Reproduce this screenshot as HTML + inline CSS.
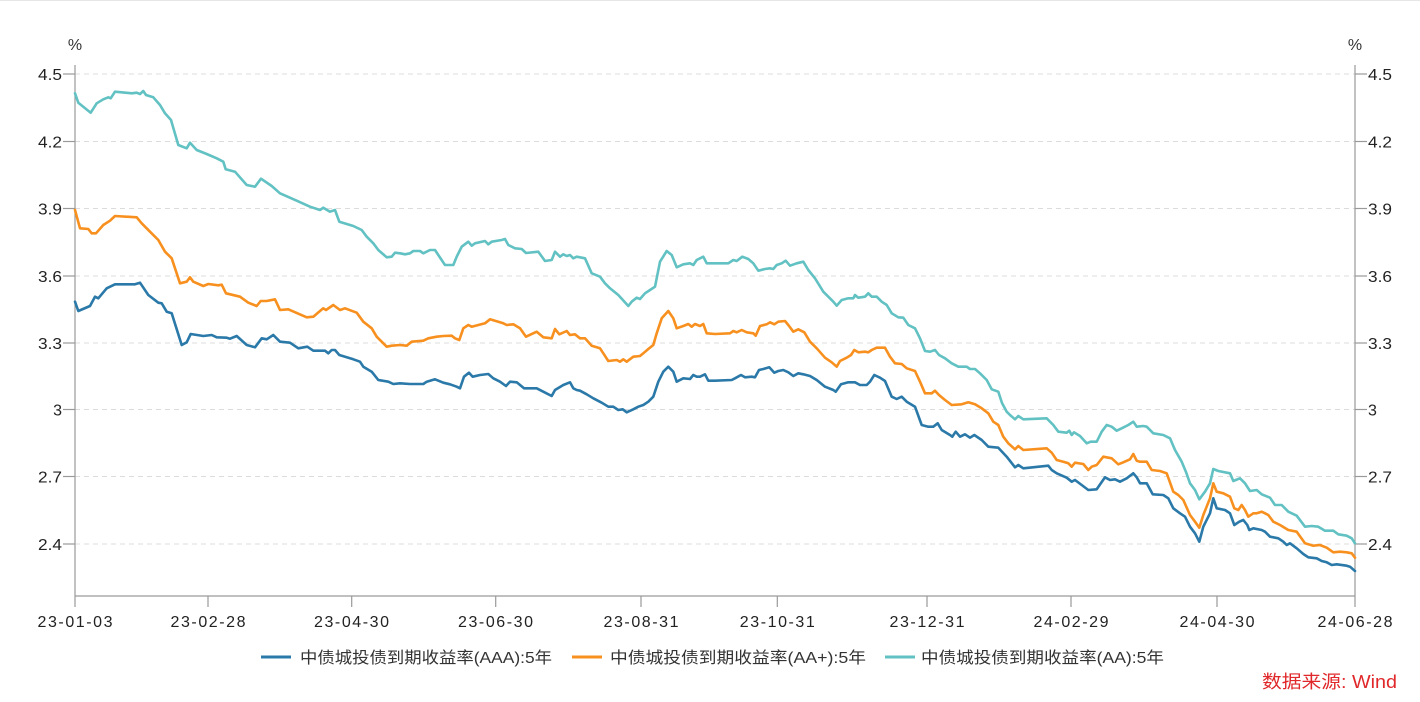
<!DOCTYPE html>
<html>
<head>
<meta charset="utf-8">
<style>
  html,body{margin:0;padding:0;background:#fff;}
  body{width:1420px;height:702px;overflow:hidden;}
  svg{display:block;}
  text{font-family:"Liberation Sans","Noto Sans CJK SC",sans-serif;}
</style>
</head>
<body>
<svg width="1420" height="702" viewBox="0 0 1420 702" xmlns="http://www.w3.org/2000/svg">
  <rect x="0" y="0" width="1420" height="702" fill="#fff"/>
  <line x1="0" y1="0.5" x2="1420" y2="0.5" stroke="#e6e6e6" stroke-width="1"/>

  <!-- grid -->
  <g stroke="#dcdcdc" stroke-width="1" stroke-dasharray="5,4">
    <line x1="75" y1="74" x2="1355" y2="74"/>
    <line x1="75" y1="141.5" x2="1355" y2="141.5"/>
    <line x1="75" y1="208.5" x2="1355" y2="208.5"/>
    <line x1="75" y1="276" x2="1355" y2="276"/>
    <line x1="75" y1="343" x2="1355" y2="343"/>
    <line x1="75" y1="409.5" x2="1355" y2="409.5"/>
    <line x1="75" y1="476.5" x2="1355" y2="476.5"/>
    <line x1="75" y1="544" x2="1355" y2="544"/>
  </g>

  <!-- axes -->
  <g stroke="#9a9a9a" stroke-width="1.2" fill="none">
    <line x1="75" y1="65" x2="75" y2="596"/>
    <line x1="1355" y1="65" x2="1355" y2="596"/>
    <line x1="75" y1="596" x2="1355" y2="596"/>
    <line x1="63" y1="74" x2="75" y2="74"/>
    <line x1="63" y1="141.5" x2="75" y2="141.5"/>
    <line x1="63" y1="208.5" x2="75" y2="208.5"/>
    <line x1="63" y1="276" x2="75" y2="276"/>
    <line x1="63" y1="343" x2="75" y2="343"/>
    <line x1="63" y1="409.5" x2="75" y2="409.5"/>
    <line x1="63" y1="476.5" x2="75" y2="476.5"/>
    <line x1="63" y1="544" x2="75" y2="544"/>
    <line x1="1355" y1="74" x2="1367" y2="74"/>
    <line x1="1355" y1="141.5" x2="1367" y2="141.5"/>
    <line x1="1355" y1="208.5" x2="1367" y2="208.5"/>
    <line x1="1355" y1="276" x2="1367" y2="276"/>
    <line x1="1355" y1="343" x2="1367" y2="343"/>
    <line x1="1355" y1="409.5" x2="1367" y2="409.5"/>
    <line x1="1355" y1="476.5" x2="1367" y2="476.5"/>
    <line x1="1355" y1="544" x2="1367" y2="544"/>
    <line x1="75" y1="596" x2="75" y2="607"/>
    <line x1="208" y1="596" x2="208" y2="607"/>
    <line x1="351.7" y1="596" x2="351.7" y2="607"/>
    <line x1="495.7" y1="596" x2="495.7" y2="607"/>
    <line x1="641" y1="596" x2="641" y2="607"/>
    <line x1="777.3" y1="596" x2="777.3" y2="607"/>
    <line x1="927" y1="596" x2="927" y2="607"/>
    <line x1="1071" y1="596" x2="1071" y2="607"/>
    <line x1="1217" y1="596" x2="1217" y2="607"/>
    <line x1="1355" y1="596" x2="1355" y2="607"/>
  </g>

  <!-- y labels -->
  <g font-size="16" fill="#222" text-anchor="end">
    <text x="75" y="50" text-anchor="middle" fill="#333">%</text>
    <text x="62" y="80" textLength="24" lengthAdjust="spacingAndGlyphs">4.5</text>
    <text x="62" y="147.5" textLength="24" lengthAdjust="spacingAndGlyphs">4.2</text>
    <text x="62" y="214.5" textLength="24" lengthAdjust="spacingAndGlyphs">3.9</text>
    <text x="62" y="282" textLength="24" lengthAdjust="spacingAndGlyphs">3.6</text>
    <text x="62" y="349" textLength="24" lengthAdjust="spacingAndGlyphs">3.3</text>
    <text x="62" y="415.5">3</text>
    <text x="62" y="482.5" textLength="24" lengthAdjust="spacingAndGlyphs">2.7</text>
    <text x="62" y="550" textLength="24" lengthAdjust="spacingAndGlyphs">2.4</text>
  </g>
  <g font-size="16" fill="#222" text-anchor="start">
    <text x="1355" y="50" text-anchor="middle" fill="#333">%</text>
    <text x="1368" y="80" textLength="24" lengthAdjust="spacingAndGlyphs">4.5</text>
    <text x="1368" y="147.5" textLength="24" lengthAdjust="spacingAndGlyphs">4.2</text>
    <text x="1368" y="214.5" textLength="24" lengthAdjust="spacingAndGlyphs">3.9</text>
    <text x="1368" y="282" textLength="24" lengthAdjust="spacingAndGlyphs">3.6</text>
    <text x="1368" y="349" textLength="24" lengthAdjust="spacingAndGlyphs">3.3</text>
    <text x="1368" y="415.5">3</text>
    <text x="1368" y="482.5" textLength="24" lengthAdjust="spacingAndGlyphs">2.7</text>
    <text x="1368" y="550" textLength="24" lengthAdjust="spacingAndGlyphs">2.4</text>
  </g>

  <!-- x labels -->
  <g font-size="16" fill="#222">
    <text x="37.5" y="627" textLength="75" lengthAdjust="spacing">23-01-03</text>
    <text x="170.5" y="627" textLength="75" lengthAdjust="spacing">23-02-28</text>
    <text x="314" y="627" textLength="75" lengthAdjust="spacing">23-04-30</text>
    <text x="458" y="627" textLength="75" lengthAdjust="spacing">23-06-30</text>
    <text x="603.5" y="627" textLength="75" lengthAdjust="spacing">23-08-31</text>
    <text x="739.8" y="627" textLength="75" lengthAdjust="spacing">23-10-31</text>
    <text x="889.5" y="627" textLength="75" lengthAdjust="spacing">23-12-31</text>
    <text x="1033.5" y="627" textLength="75" lengthAdjust="spacing">24-02-29</text>
    <text x="1179.5" y="627" textLength="75" lengthAdjust="spacing">24-04-30</text>
    <text x="1317.5" y="627" textLength="75" lengthAdjust="spacing">24-06-28</text>
  </g>

  <!-- series -->
  <g fill="none" stroke-width="2.6" stroke-linejoin="round" stroke-linecap="round">
    <polyline stroke="#62c1c2" points="75,93.3 78.3,102.7 90.7,112.7 96.7,103.3 103.3,99.3 108.3,97.3 110.7,98.3 115,91.7 131.7,93.3 136.7,92.7 140,94 143.3,91 146,95 153.3,97.3 160,105 165,113.3 171,120 178.3,145 186.7,148.3 190,142.7 196.7,150 206.7,154 216.7,158.3 223.3,161.7 225.7,169.3 235,171.7 246.7,185 255,186.7 261,178.7 271.7,186 280,193.3 296.7,200.7 310,206.7 320,210 323.3,207.7 330,211.7 335,210 339.3,221.7 353.3,226 361.7,230 366.7,236.7 373.3,243.3 378.3,250 386.7,257.3 391.7,256.7 395,252.7 400,253.3 405,254.3 410,253.3 413.3,251 420,251 423.3,253.3 430,250 435,250 438.3,255 445,265 453.3,265 456.7,256.7 461.7,246.7 468.3,241.7 471.7,245.7 475,243.3 485,241 488.3,244.3 491.7,241.7 501.7,240 505,239 508.3,245 515,248.3 521.7,249 526,253 538.3,251.7 545,261 551.7,260 555,251.7 560,256.7 563.3,254.3 566.7,256 570,255 573.3,258.3 576.7,256.7 585,258.3 591.7,273.3 600,276.7 605,283.3 610,288.3 618.3,295 628.3,306 631.7,301.7 636.7,297.7 640,299 645,293.3 650,290 655,286.7 660,261.7 666.7,251 671.7,255 676.7,267.3 683.3,264.3 690,263.3 693.3,265 696.7,260 703.3,256.7 706.7,263.3 715,263.3 728.3,263.3 733.3,260 736.7,261 742.3,256.7 748.3,259 753.3,263.3 758.3,270.7 765,269 770,268.3 773.3,269 776.7,265 781.7,263.3 785.7,260.7 790,265.7 796.7,263.3 803.3,261.7 808.3,270 815,278.3 823.3,291.7 828.3,296.7 833.3,301.7 836.7,305.7 841.7,300 848.3,298.3 853.3,298.3 855,295 858.3,297.7 865,296.7 868.3,293.3 871.7,296.7 876.7,296.7 881.7,301.7 886.7,305 891.7,313.3 898.3,317.3 903.3,317.7 908.3,325 915,328.3 920,338.3 925,351 930,351.7 935,350 939,355 945,358.3 951.7,363.3 958.3,366.7 966.7,366.7 970,369 975,369 980,373.3 986.7,380 991.7,389.3 998.3,391.7 1002,403 1006.7,411.7 1010,415 1015,419.3 1018.3,416 1023.3,419.3 1046.7,418.3 1053.3,425 1058.3,431.7 1066.7,432.7 1069.3,430.7 1071.7,435 1074,432.3 1080,436 1086.7,443.3 1090.7,441.7 1096.7,441.7 1101.7,431.7 1106.7,425 1111.7,426.7 1116.7,430.7 1121.7,428.3 1128.3,425 1133.3,421.7 1136.7,426.7 1143.3,426 1146.7,426.7 1153.3,433.3 1163.3,435 1170,438.3 1175,450 1181.7,461.7 1186,472 1190,483.3 1195,490 1199.3,499.3 1205,491.7 1210,483.3 1213.3,469 1218.3,471 1230,473.3 1233.3,481 1240,478.3 1245,483.3 1250,491 1256.7,490 1261.7,494.3 1270,497.7 1275,505 1281.7,505 1288.3,511.7 1296.7,515.7 1305,526.7 1311.7,526 1318.3,526.7 1325,530.7 1333.3,530.7 1338.3,534.3 1346.7,535.7 1351.7,538.3 1355,543.3"/>
    <polyline stroke="#f7901f" points="75,210 80,228.3 88.3,229 91.7,233.3 96,233.3 103.3,225 110,220.7 115,216 136.7,217.3 141.7,223.3 150,231.7 158.3,240 165,251.7 171.7,258.3 180,283.3 186.7,281.7 190,277.3 193.3,281.7 203.3,286 208.3,284 218.3,285.3 221.7,284.7 226,293.3 240,296.7 248.3,302.7 256.7,306 260.7,301 266.7,301 275,299.3 280,310 288.3,309.3 306.7,317.3 313.3,316.7 320,311 323.3,308.3 326,310 333.3,305 340,310 345,308.3 356.7,312.7 363.3,321.7 371.7,328.3 376.7,336.7 386.7,346.7 391.7,345.7 400,345 406.7,345.7 411.7,341.7 423.3,340.7 428.3,338.3 436.7,336.7 443.3,336 451.7,335.7 455,338.3 459.3,340 463.3,328.3 468.3,325 471.7,326.7 485,323.3 490,319.3 498.3,321.7 503.3,323.3 506.7,325 513.3,324.3 520,328.3 526,336.7 536.7,331.7 543.3,337.3 551.7,338.3 555,329 559.3,334.3 566.7,331 570,335 575,334.3 580,338.3 585,338.3 591.7,345.7 600,348.3 603.3,353.3 608.3,361 616.7,360 620,361.7 623.3,359.3 626.7,361.7 633.3,356.7 640,356 643.3,353.3 648.3,349 653.3,345 656.7,333.3 661.7,318.3 668.3,311 673.3,318.3 676.7,328.3 683.3,326 688.3,324 691.7,326.7 695,324 700,326 703.3,324 706.7,333.3 715,334 730,333.3 733.3,331 736.7,332.3 741.7,330 746.7,332.3 753.3,333.3 755.7,335.7 760,326 766.7,324.3 770,322.3 774.3,324.3 778.3,321.7 785,321 788.3,325 793.3,331.7 798.3,329.3 804.3,332.3 810,341.7 816.7,348.3 825,357.7 831.7,362.3 836.7,366.7 840,361 846.7,357.7 851,355 854.3,350 858.3,352.3 865,351.7 868.3,352.3 871.7,350 876.7,347.7 885,347.7 890,356.7 895,363.3 901.7,364 906.7,368.3 915,371 920,381.7 925,393.3 931.7,393.3 935,390.7 939,395 945,400 951.7,405 961.7,404.3 968.3,402.3 975,404.3 981.7,408.3 988.3,413.3 993.3,421.7 998.3,425 1003.3,436.7 1008.3,443.3 1015,449.3 1018.3,446 1023.3,450 1046.7,448.3 1051.7,452.7 1056.7,460 1063.3,461.7 1068.3,463.3 1071.7,466.7 1075,462.7 1083.3,464 1088.3,470 1091.7,466.7 1096.7,465 1103.3,456.7 1111.7,458.3 1118.3,464.3 1123.3,462.3 1130,459.3 1133.3,454 1136.7,460.7 1140,461.7 1146.7,461.7 1151.7,470 1160,471 1166.7,473.3 1173.3,491.7 1178.3,495 1183.3,500 1190,515 1195,521.7 1199.3,527.7 1203.3,515 1210,498.3 1213.3,483.3 1216.7,491.7 1223.3,493.3 1230,496.7 1234.3,508.3 1238.3,510 1241.7,505 1245,510 1248.3,516.7 1253.3,513.3 1256.7,513.3 1261.7,511.7 1265,513.3 1268.3,515 1273.3,521.7 1280,525 1288.3,530 1296.7,531.7 1305,543.3 1313.3,545.7 1320,545 1326.7,547.7 1333.3,552.3 1340,551.7 1346.7,552.3 1351.7,553.3 1355,557.7"/>
    <polyline stroke="#2a79a8" points="75,301.7 78.3,311 90,306 95,296.7 98.3,298.3 106.7,288.3 115,284.3 135,284.3 140,282.7 148.3,295 158.3,302.7 161.7,303.3 166.7,311.7 171.7,313.3 181.7,345 186.7,342.3 190.7,334 203.3,336 211.7,335 216.7,337.3 226.7,337.7 230,338.7 236.7,336 246.7,345 255,347.3 261.7,338.3 266.7,339.3 273.3,335 280,341.7 290,342.7 298.3,348.3 307.3,346.7 313.3,350.7 325,350.7 328.3,353.3 331.7,350 335,350 339.3,355 353.3,359.3 360,361.7 363.3,366.7 371.7,371.7 378.3,380 388.3,381.7 393.3,384 400,383.3 410,384 423.3,384 426.7,381.7 435,379.3 443.3,382.7 450,384.3 456.7,386.7 460,388.3 464,376.7 469,372.7 472.7,376.7 480,375 488.3,374 493.3,378.3 500,381.7 506,386 510,381.7 516.7,382.3 524,388.3 536.7,388.3 543.3,391.7 551.7,396 555,390 563.3,385 570,382.3 573.3,388.3 576.7,390 580,390.7 586.7,394.3 593.3,398.3 601.7,402.7 608.3,406.7 613.3,406.7 618.3,410 622.7,409.3 626.7,412.3 633.3,409.3 638.3,406.7 643.3,405 648.3,401.7 653.3,396.7 658.3,381.7 663.3,371.7 668.3,366.7 673.3,371.7 676.7,381.7 683.3,378.3 690,379 693.3,375 696.7,376.7 700,376.7 705,374.3 708.3,380.7 715,380.7 731.7,380 735,378.3 741,375 745,377.3 751.7,376.7 755,377.3 759,370 763.3,369 769.3,367.3 774.3,372.7 778.3,371 783.3,370 788.3,372.3 793.3,376 798.3,373.3 803.3,374.3 810,376 816.7,380 825,386.7 833.3,390 835.7,391.7 841,384.3 848.3,382.3 855,382.3 860,385 866.7,385 870,381.7 874.3,375 880,377.7 885,381 891.7,396.7 896.7,399 901.7,396.7 906.7,401.7 915,406.7 921.7,425 928.3,426.7 933.3,426.7 937.7,423.3 941.7,430 950,435 952.3,436.7 955.7,431.7 960,436.7 965,434.3 970,437.7 974.3,435 981.7,440 988.3,446.7 998.3,447.7 1006.7,456.7 1015,467.3 1018.3,465 1023.3,468.3 1048.3,465.7 1051.7,470 1056.7,473.3 1066.7,477.7 1071.7,481.7 1075,480 1081.7,485 1088.3,490 1096.7,489.3 1105,477.3 1110,480 1115,479.3 1120,481.7 1126.7,478.3 1133.3,473.3 1136.7,477.3 1140,483.3 1146.7,483.3 1152.7,494.3 1163.3,495 1168.3,498.3 1173.3,508.3 1180,513.3 1185,516.7 1190,526.7 1195,533.3 1199.3,541.7 1203.3,526.7 1210,513.3 1213.3,498.3 1216.7,508.3 1225,510 1230,513.3 1234.3,525 1239.3,521.7 1243.3,520 1247.3,525 1249.3,530 1253.3,528.3 1261.7,530 1265,531.7 1270,536.7 1278.3,538.3 1283.3,541.7 1286.7,545 1290,543.3 1296.7,548.3 1303.3,554 1308.3,557.3 1316.7,558.3 1321.7,561 1326.7,562.3 1331.7,565 1336.7,564.3 1346.7,565.7 1350,566.7 1355,571"/>
  </g>

  <!-- legend -->
  <g stroke-width="3">
    <line x1="261" y1="657" x2="291" y2="657" stroke="#2a79a8"/>
    <line x1="572" y1="657" x2="602" y2="657" stroke="#f7901f"/>
    <line x1="885" y1="657" x2="915" y2="657" stroke="#62c1c2"/>
  </g>
  <g font-size="16" fill="#333">
    <text x="300" y="663" textLength="252" lengthAdjust="spacingAndGlyphs">中债城投债到期收益率(AAA):5年</text>
    <text x="610" y="663" textLength="256" lengthAdjust="spacingAndGlyphs">中债城投债到期收益率(AA+):5年</text>
    <text x="921" y="663" textLength="243" lengthAdjust="spacingAndGlyphs">中债城投债到期收益率(AA):5年</text>
  </g>

  <text x="1262" y="688" font-size="18" fill="#e0282a" textLength="135" lengthAdjust="spacingAndGlyphs">数据来源: Wind</text>
</svg>
</body>
</html>
